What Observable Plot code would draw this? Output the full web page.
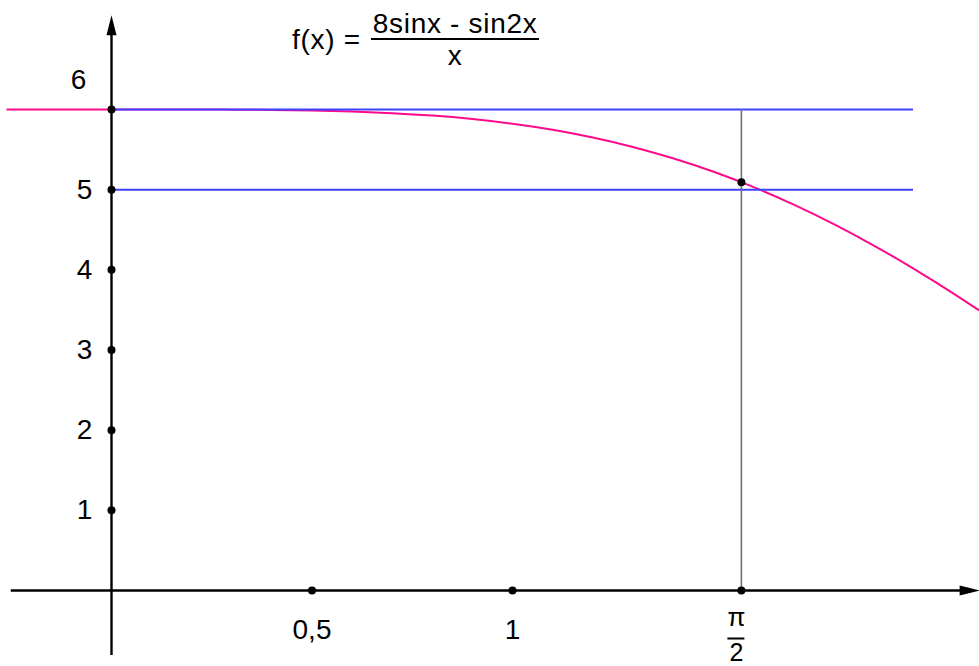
<!DOCTYPE html>
<html>
<head>
<meta charset="utf-8">
<script src="https://cdn.jsdelivr.net/npm/d3@7"></script>
<script src="https://cdn.jsdelivr.net/npm/@observablehq/plot@0.6"></script>
<style>
  html, body { margin: 0; padding: 0; background: #fff; }
  #wrap { position: relative; width: 979px; height: 666px; }
  #title { position: absolute; left: 292px; top: 10px; font-family: "Liberation Sans", Arial, sans-serif; font-size: 28px; letter-spacing: 0.7px; display: flex; align-items: center; color: #000; }
  #title .frac { display: inline-flex; flex-direction: column; align-items: center; margin-left: 10px; }
  #title .num { border-bottom: 2px solid #000; line-height: 28px; padding: 0 2px; }
  #title .den { line-height: 28px; padding-top: 2px; }
</style>
</head>
<body>
<div id="wrap">
  <div id="chart"></div>
  <div id="title"><span>f(x) =</span><span class="frac"><span class="num">8sinx - sin2x</span><span class="den">x</span></span></div>
</div>
<script>
// Curve samples of f(x) = (8 sin x - sin 2x) / x
const curveX = [-0.26, -0.2, -0.1, 0, 0.1, 0.2, 0.3, 0.4, 0.5, 0.6, 0.7, 0.8, 0.9, 1.0, 1.1, 1.2, 1.3, 1.4, 1.5, 1.6, 1.7, 1.8, 1.9, 2.0, 2.1, 2.2];
const curveY = [5.9991, 5.9997, 6.0, 6.0, 6.0, 5.9997, 5.9984, 5.9950, 5.9879, 5.9752, 5.9547, 5.9241, 5.8809, 5.8225, 5.7465, 5.6507, 5.5331, 5.3919, 5.2259, 5.0344, 4.8170, 4.5741, 4.3065, 4.0156, 3.7035, 3.3725];

const levelLines = [5, 6];          // blue horizontal lines
const levelEnd = 2.0;               // blue lines run from x = 0 to here
const markedPoint = {x: 1.5708, y: 5.093};

const yTicks = [1, 2, 3, 4, 5];
const yTopTick = [6];
const xTicks = [0.5, 1];
const xTickLabels = ["0,5", "1"];
const xPiTick = [1.5708];           // π/2
const xPiNum = "π", xPiDen = "2";

const xAxisStart = -0.25, xAxisEnd = 2.14;
const yAxisStart = -0.81, yAxisEnd = 7.05;

const curve = curveX.map((x, i) => ({x, y: curveY[i]}));
const yDots = [...yTicks, ...yTopTick];

const arrowUp = {
  draw(ctx) {
    ctx.moveTo(0, -10);
    ctx.lineTo(5, 10);
    ctx.lineTo(-5, 10);
    ctx.closePath();
  }
};

const font = "Liberation Sans, Arial, sans-serif";

const chart = Plot.plot({
  width: 979,
  height: 666,
  x: {domain: [0, 1], range: [111, 512], axis: null},
  y: {domain: [0, 6], range: [590, 109], axis: null},
  style: {fontFamily: font, background: "#fff"},
  marks: [
    Plot.line(curve, {x: "x", y: "y", stroke: "#ff0a8c", strokeWidth: 2, curve: "natural"}),
    Plot.ruleY(levelLines, {x1: 0, x2: levelEnd, stroke: "#4040ff", strokeWidth: 2}),
    Plot.ruleX(xPiTick, {y1: 0, y2: 6, stroke: "#707070", strokeWidth: 1.6}),
    // axes
    Plot.ruleY([0], {x1: xAxisStart, x2: xAxisEnd, stroke: "#000", strokeWidth: 2.4}),
    Plot.ruleX([0], {y1: yAxisStart, y2: yAxisEnd, stroke: "#000", strokeWidth: 2.4}),
    Plot.dot([0], {x: 0, y: yAxisEnd, symbol: arrowUp, fill: "#000", stroke: null, r: 5}),
    Plot.dot([0], {x: xAxisEnd, y: 0, symbol: arrowUp, fill: "#000", stroke: null, r: 5, rotate: 90}),
    // dots
    Plot.dot(yDots, {x: 0, y: d => d, fill: "#000", r: 4}),
    Plot.dot([...xTicks, ...xPiTick], {x: d => d, y: 0, fill: "#000", r: 4}),
    Plot.dot([markedPoint], {x: "x", y: "y", fill: "#000", r: 4}),
    // labels
    Plot.text(yTicks, {x: 0, y: d => d, text: d => String(d), dx: -27, textAnchor: "middle", lineAnchor: "middle", fontSize: 28, fill: "#000"}),
    Plot.text(yTopTick, {x: 0, y: d => d, text: d => String(d), dx: -33, dy: -29, textAnchor: "middle", lineAnchor: "middle", fontSize: 28, fill: "#000"}),
    Plot.text(xTicks, {x: d => d, y: 0, text: (d, i) => xTickLabels[i], dy: 40, textAnchor: "middle", lineAnchor: "middle", fontSize: 28, fill: "#000"}),
    Plot.text(xPiTick, {x: d => d, y: 0, text: () => xPiNum, dx: -5, dy: 27, textAnchor: "middle", lineAnchor: "middle", fontSize: 26, fill: "#000"}),
    Plot.ruleY(xPiTick, {x1: d => d, x2: d => d, y: 0, dx: -5, dy: 48, insetLeft: -8.5, insetRight: -8.5, stroke: "#000", strokeWidth: 2}),
    Plot.text(xPiTick, {x: d => d, y: 0, text: () => xPiDen, dx: -5, dy: 62, textAnchor: "middle", lineAnchor: "middle", fontSize: 25, fill: "#000"})
  ]
});
document.getElementById("chart").appendChild(chart);
</script>
</body>
</html>
